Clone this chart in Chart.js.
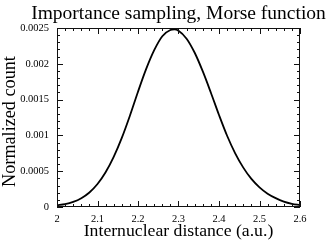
<!DOCTYPE html>
<html><head><meta charset="utf-8">
<script src="https://cdn.jsdelivr.net/npm/chart.js@4"></script>
<style>html,body{margin:0;padding:0;background:#fff}canvas{display:block}</style>
</head><body>
<canvas id="c" width="332" height="242"></canvas>
<script>
const distances = [2.00,2.02,2.04,2.06,2.08,2.10,2.12,2.14,2.16,2.18,2.20,2.22,2.24,2.26,2.28,2.29,2.30,2.32,2.34,2.36,2.38,2.40,2.42,2.44,2.46,2.48,2.50,2.52,2.54,2.56,2.58,2.60];
const counts = [0.000025,0.000040,0.000071,0.000123,0.000203,0.000321,0.000485,0.000700,0.000965,0.001275,0.001610,0.001925,0.002190,0.002385,0.002472,0.002480,0.002462,0.002351,0.002154,0.001893,0.001596,0.001285,0.000995,0.000750,0.000550,0.000392,0.000274,0.000186,0.000124,0.000076,0.000045,0.000026];
const xTicks = [2, 2.1, 2.2, 2.3, 2.4, 2.5, 2.6];
const yTicks = [0, 0.0005, 0.001, 0.0015, 0.002, 0.0025];
const xMinorStep = 0.02;
const yMinorStep = 0.0001;
const titleText = 'Importance sampling, Morse function';
const xTitle = 'Internuclear distance (a.u.)';
const yTitle = 'Normalized count';

const serif = "'Liberation Serif', 'DejaVu Serif', serif";

const frameTicks = {
  id: 'frameTicks',
  afterDatasetsDraw(chart) {
    const {ctx, chartArea: a, scales: {x, y}} = chart;
    ctx.save();
    ctx.strokeStyle = '#111';
    ctx.lineWidth = 1;
    ctx.beginPath();
    const tx = (v, len) => {
      const p = Math.round(x.getPixelForValue(v)) + 0.5;
      ctx.moveTo(p, a.bottom); ctx.lineTo(p, a.bottom - len);
      ctx.moveTo(p, a.top); ctx.lineTo(p, a.top + len);
    };
    const ty = (v, len) => {
      const p = Math.round(y.getPixelForValue(v)) + 0.5;
      ctx.moveTo(a.left, p); ctx.lineTo(a.left + len, p);
      ctx.moveTo(a.right, p); ctx.lineTo(a.right - len, p);
    };
    const nx = Math.round((xTicks[xTicks.length-1] - xTicks[0]) / xMinorStep);
    for (let i = 0; i <= nx; i++) tx(xTicks[0] + i * xMinorStep, 3);
    const ny = Math.round((yTicks[yTicks.length-1] - yTicks[0]) / yMinorStep);
    for (let i = 0; i <= ny; i++) ty(yTicks[0] + i * yMinorStep, 3);
    xTicks.forEach(v => tx(v, 6));
    yTicks.forEach(v => ty(v, 6));
    ctx.stroke();
    ctx.strokeRect(Math.round(a.left) + 0.5, Math.round(a.top) + 0.5, Math.round(a.width) - 1, Math.round(a.height) - 1);

    // titles
    const cx = (a.left + a.right) / 2;
    ctx.fillStyle = '#000';
    ctx.textAlign = 'center';
    ctx.textBaseline = 'alphabetic';
    ctx.font = '19.5px ' + serif;
    ctx.fillText(titleText, cx, 18.5);
    ctx.font = '17.7px ' + serif;
    ctx.fillText(xTitle, cx, 236);
    ctx.save();
    ctx.translate(15, 121.5);
    ctx.rotate(-Math.PI / 2);
    ctx.font = '18.2px ' + serif;
    ctx.fillText(yTitle, 0, 0);
    ctx.restore();
    ctx.restore();
  }
};

new Chart(document.getElementById('c'), {
  type: 'line',
  data: {
    datasets: [{
      data: distances.map((d, i) => ({x: d, y: counts[i]})),
      borderColor: '#000',
      borderWidth: 1.8,
      pointRadius: 0,
      cubicInterpolationMode: 'monotone',
      fill: false
    }]
  },
  options: {
    responsive: false,
    animation: false,
    devicePixelRatio: 1,
    layout: {padding: {left: 0, right: 32, top: 28, bottom: 0}},
    plugins: {
      legend: {display: false},
      tooltip: {enabled: false},
      title: {display: false}
    },
    scales: {
      x: {
        type: 'linear',
        min: xTicks[0], max: xTicks[xTicks.length-1],
        afterBuildTicks: s => { s.ticks = xTicks.map(v => ({value: v})); },
        afterFit: s => { s.height = 35; },
        grid: {display: false, drawTicks: false},
        border: {display: false},
        ticks: {color: '#000', font: {family: serif, size: 10.5}, padding: 6, maxRotation: 0, callback: v => String(v)},
        title: {display: false}
      },
      y: {
        type: 'linear',
        min: yTicks[0], max: yTicks[yTicks.length-1],
        afterBuildTicks: s => { s.ticks = yTicks.map(v => ({value: v})); },
        afterFit: s => { s.width = 57; },
        grid: {display: false, drawTicks: false},
        border: {display: false},
        ticks: {color: '#000', font: {family: serif, size: 10.5}, padding: 8, callback: v => String(v)},
        title: {display: false}
      }
    }
  },
  plugins: [frameTicks]
});
</script>
</body></html>
